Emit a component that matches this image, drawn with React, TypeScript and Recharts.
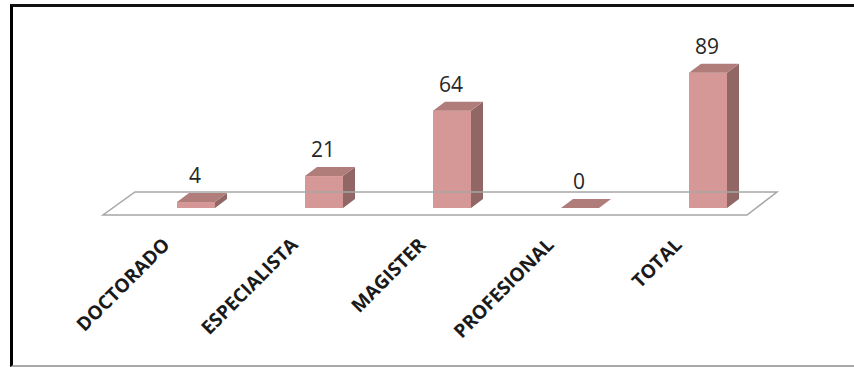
import React from 'react';
import { BarChart, Bar, XAxis, YAxis, ReferenceLine, LabelList } from 'recharts';

const categories = ['DOCTORADO', 'ESPECIALISTA', 'MAGISTER', 'PROFESIONAL', 'TOTAL'];
const counts = [4, 21, 64, 0, 89];

const data = categories.map((name, i) => ({ name, value: counts[i] }));

// depth offset of the fake 3D extrusion
const DX = 12;
const DY = -9;

const FRONT = '#d69896';
const TOP = '#b07d7b';
const SIDE = '#906765';

function Bar3D(props: any) {
  const { x, y, width, height } = props;
  const h = Math.max(0, height || 0);
  const bottom = y + h;
  const top = bottom - h;
  const topFace = `M${x},${top} L${x + DX},${top + DY} L${x + width + DX},${top + DY} L${x + width},${top} Z`;
  const sideFace = `M${x + width},${top} L${x + width + DX},${top + DY} L${x + width + DX},${bottom + DY} L${x + width},${bottom} Z`;
  return (
    <g>
      {h > 0 && <rect x={x} y={top} width={width} height={h} fill={FRONT} />}
      {h > 0 && <path d={sideFace} fill={SIDE} />}
      <path d={topFace} fill={TOP} />
    </g>
  );
}

// floor parallelogram drawn along the zero line
function Floor(props: any) {
  const { x1, y1, x2 } = props;
  const back = y1 - 16;
  const front = y1 + 7;
  const d = `M${x1 + 3},${back} L${x2 + 5},${back} L${x2 - 25},${front} L${x1 - 29},${front} Z`;
  return <path d={d} fill="none" stroke="#a6a6a6" strokeWidth={1.5} />;
}

function CategoryTick(props: any) {
  const { x, y, payload } = props;
  const ax = x - 25;
  const ay = y + 30;
  return (
    <text
      x={ax}
      y={ay}
      transform={`rotate(-45, ${ax}, ${ay})`}
      textAnchor="end"
      fontFamily="'Open Sans', sans-serif"
      fontWeight={700}
      fontSize={19}
      fill="#1a1a1a"
    >
      {payload.value}
    </text>
  );
}

function ValueLabel(props: any) {
  const { x, y, width, value } = props;
  return (
    <text
      x={x + width / 2 - 1}
      y={y - 19}
      textAnchor="middle"
      fontFamily="'Open Sans', sans-serif"
      fontSize={21}
      fill="#262626"
    >
      {value}
    </text>
  );
}

export default function App() {
  return (
    <div style={{ position: 'absolute', left: 0, top: 0, width: 854, height: 367, background: '#fff' }}>
      <div
        style={{
          position: 'absolute',
          left: 10,
          top: 4,
          width: 844,
          height: 363,
          boxSizing: 'border-box',
          borderLeft: '3px solid #000',
          borderTop: '3px solid #111',
          borderBottom: '2px solid #a8a8a8',
        }}
      />
      <div style={{ position: 'absolute', left: 0, top: 0 }}>
        <BarChart
          width={854}
          height={367}
          data={data}
          margin={{ top: 56, right: 82, left: 132, bottom: 59 }}
          barCategoryGap={0}
        >
          <XAxis
            dataKey="name"
            axisLine={false}
            tickLine={false}
            height={100}
            interval={0}
            tick={<CategoryTick />}
          />
          <YAxis hide domain={[0, 100]} />
          <ReferenceLine y={0} shape={<Floor />} />
          <Bar dataKey="value" barSize={38} shape={<Bar3D />} isAnimationActive={false}>
            <LabelList dataKey="value" content={<ValueLabel />} />
          </Bar>
        </BarChart>
      </div>
    </div>
  );
}
